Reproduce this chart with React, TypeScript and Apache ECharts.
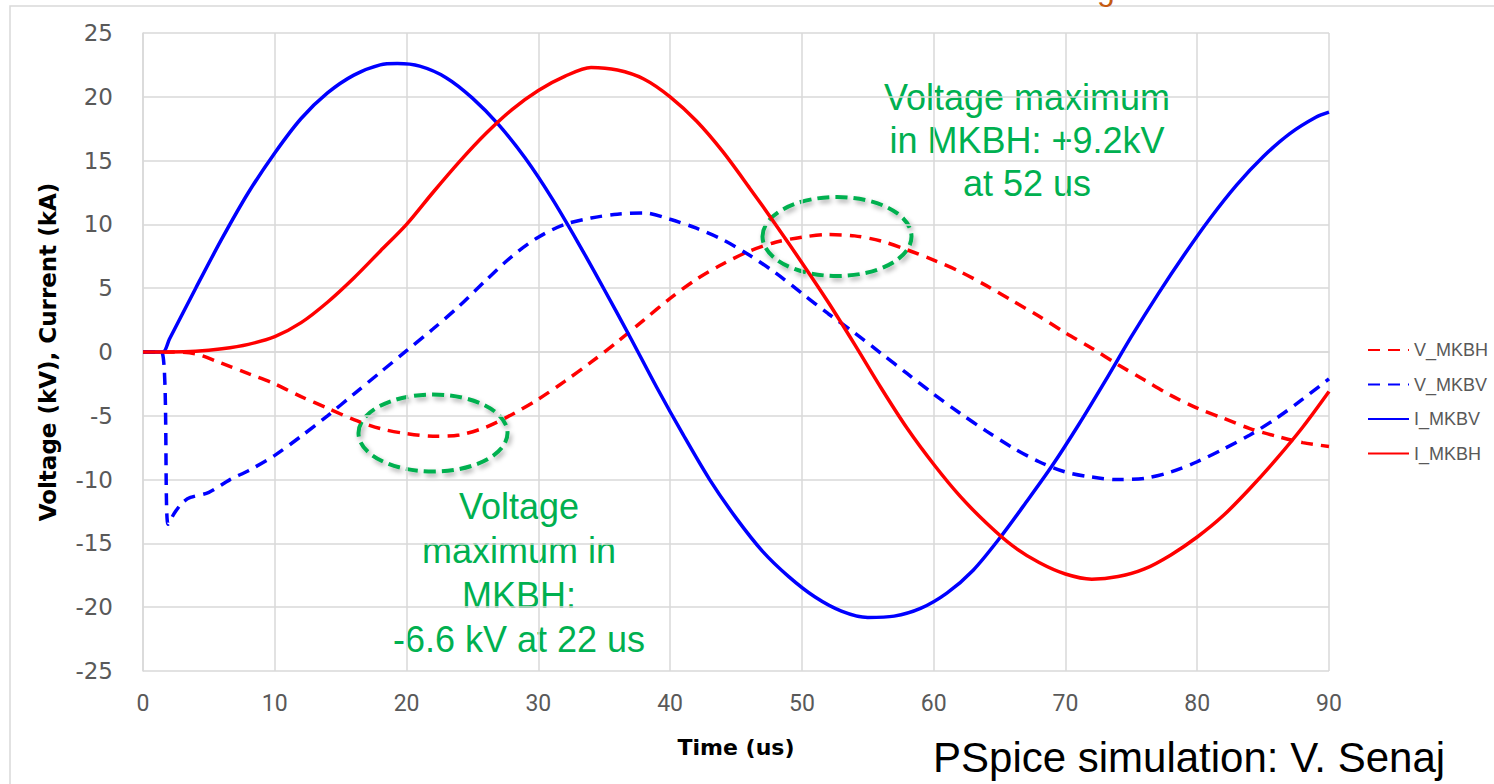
import React, { useEffect, useRef } from "react";
import * as echarts from "echarts";

// ---- data (time in us, value in kV / kA) ----
const tVMKBH = [0, 2, 4, 6, 8, 10, 12, 14, 16, 18, 20, 22, 24, 26, 28, 30, 32, 34, 36, 38, 40, 42, 44, 46, 48, 50, 52, 54, 56, 58, 60, 62, 64, 66, 68, 70, 72, 74, 76, 78, 80, 82, 84, 86, 88, 90];
const vVMKBH = [0, 0, -0.15, -0.9, -1.7, -2.5, -3.5, -4.4, -5.3, -6.0, -6.4, -6.6, -6.5, -5.9, -4.9, -3.7, -2.3, -0.8, 0.8, 2.5, 4.2, 5.7, 6.9, 7.9, 8.6, 9.0, 9.2, 9.1, 8.7, 8.0, 7.2, 6.3, 5.2, 4.0, 2.8, 1.5, 0.3, -1.0, -2.2, -3.4, -4.4, -5.2, -6.0, -6.6, -7.1, -7.4];

const tVMKBV = [0, 1.4, 1.9, 2.4, 3.0, 3.6, 5, 6.6, 8, 10, 12, 14, 16, 18, 20, 22, 24, 26, 28, 30, 32, 34, 36, 38, 40, 42, 44, 46, 48, 50, 52, 54, 56, 58, 60, 62, 64, 66, 68, 70, 72, 74, 76, 78, 80, 82, 84, 86, 88, 90];
const vVMKBV = [0, 0, -13.5, -12.6, -11.8, -11.4, -11.0, -10.0, -9.3, -8.1, -6.6, -5.0, -3.3, -1.6, 0.1, 1.8, 3.6, 5.6, 7.5, 9.0, 10.0, 10.5, 10.8, 10.9, 10.4, 9.7, 8.8, 7.6, 6.2, 4.6, 3.0, 1.5, -0.1, -1.7, -3.3, -4.8, -6.2, -7.5, -8.6, -9.4, -9.8, -10.0, -9.9, -9.4, -8.6, -7.6, -6.5, -5.2, -3.7, -2.1];

const tIMKBV = [0, 1.5, 2, 4, 6, 8, 10, 12, 14, 16, 18, 19.3, 21, 23, 25, 27, 29, 31, 33, 35, 37, 39, 41, 43, 45, 47, 49, 51, 53, 55, 57, 59, 61, 63, 65, 67, 69, 71, 73, 75, 77, 79, 81, 83, 85, 87, 89, 90];
const vIMKBV = [0, 0, 1.0, 5.0, 8.9, 12.5, 15.6, 18.3, 20.3, 21.7, 22.5, 22.6, 22.4, 21.5, 19.9, 17.8, 15.2, 12.1, 8.6, 4.9, 1.1, -2.8, -6.5, -10.0, -13.0, -15.6, -17.6, -19.2, -20.3, -20.8, -20.7, -20.1, -18.9, -17.1, -14.6, -11.8, -8.9, -5.7, -2.3, 1.2, 4.5, 7.6, 10.5, 13.1, 15.3, 17.1, 18.4, 18.8];

const tIMKBH = [0, 2, 4, 6, 8, 10, 12, 14, 16, 18, 20, 22, 24, 26, 28, 30, 32, 34, 36, 38, 40, 42, 44, 46, 48, 50, 52, 54, 56, 58, 60, 62, 64, 66, 68, 70, 72, 74, 76, 78, 80, 82, 84, 86, 88, 90];
const vIMKBH = [0, 0, 0.05, 0.25, 0.6, 1.2, 2.3, 3.9, 5.8, 7.9, 10.0, 12.5, 14.9, 17.1, 19.0, 20.5, 21.6, 22.3, 22.1, 21.4, 20.0, 18.1, 15.7, 12.9, 10.0, 7.0, 3.9, 0.6, -2.8, -6.0, -8.8, -11.3, -13.4, -15.2, -16.5, -17.4, -17.8, -17.6, -17.0, -15.9, -14.5, -12.8, -10.7, -8.4, -5.9, -3.1];

const seriesNames = ["V_MKBH", "V_MKBV", "I_MKBV", "I_MKBH"];
const xTicks = { min: 0, max: 90, interval: 10 };
const yTicks = { min: -25, max: 25, interval: 5 };

const noteHigh = ["Voltage maximum", "in MKBH: +9.2kV", "at 52 us"];
const noteLow = ["Voltage", "maximum in", "MKBH:", "-6.6 kV at 22 us"];
const credit = "PSpice simulation: V. Senaj";

const zip = (t: number[], v: number[]) => t.map((x, i) => [x, v[i]]);

const GREEN = "#00b050";
const GRID = "#d9d9d9";
const LABEL = "#595959";

export default function App() {
  const ref = useRef<HTMLDivElement>(null);
  useEffect(() => {
    if (!ref.current) return;
    const chart = echarts.init(ref.current, undefined, { renderer: "svg" });
    const dash = [12, 8];
    const mk = (name: string, data: number[][], color: string, dashed: boolean) => ({
      name,
      type: "line",
      data,
      smooth: 0.3,
      symbol: "none",
      showSymbol: false,
      lineStyle: { color, width: 3.5, type: dashed ? dash : "solid" },
      itemStyle: { color },
    });
    const ellipseStyle = {
      fill: "none",
      stroke: GREEN,
      lineWidth: 4,
      lineDash: [12, 6],
      shadowBlur: 5,
      shadowColor: "rgba(0,0,0,0.35)",
      shadowOffsetX: 2,
      shadowOffsetY: 3,
    };
    chart.setOption({
      animation: false,
      backgroundColor: "#ffffff",
      grid: { left: 143, top: 33, right: 165, bottom: 113, containLabel: false },
      xAxis: {
        type: "value",
        min: xTicks.min,
        max: xTicks.max,
        interval: xTicks.interval,
        name: "Time (us)",
        nameLocation: "middle",
        nameGap: 65,
        nameTextStyle: { fontFamily: "DejaVu Sans", fontWeight: "bold", fontSize: 22, color: "#000" },
        axisLine: { show: true, lineStyle: { color: GRID, width: 1.5 } },
        axisTick: { show: false },
        axisLabel: { color: LABEL, fontSize: 23, fontFamily: "Liberation Sans Narrow, Roboto", margin: 21 },
        splitLine: { show: true, lineStyle: { color: GRID, width: 1.5 } },
      },
      yAxis: {
        type: "value",
        min: yTicks.min,
        max: yTicks.max,
        interval: yTicks.interval,
        name: "Voltage (kV), Current (kA)",
        nameLocation: "middle",
        nameGap: 84,
        nameTextStyle: { fontFamily: "DejaVu Sans", fontWeight: "bold", fontSize: 23, color: "#000" },
        axisLine: { show: true, lineStyle: { color: GRID, width: 1.5 } },
        axisTick: { show: false },
        axisLabel: { color: LABEL, fontSize: 23, fontFamily: "DejaVu Sans", margin: 30 },
        splitLine: { show: true, lineStyle: { color: GRID, width: 1.5 } },
      },
      legend: {
        orient: "vertical",
        left: 1362,
        top: 336,
        itemWidth: 41,
        itemHeight: 14,
        itemGap: 16.5,
        data: seriesNames,
        itemStyle: { opacity: 0 },
        textStyle: { color: LABEL, fontSize: 18, fontFamily: "Liberation Sans", lineHeight: 18 },
      },
      series: [
        mk(seriesNames[0], zip(tVMKBH, vVMKBH), "#ff0000", true),
        mk(seriesNames[1], zip(tVMKBV, vVMKBV), "#0000ff", true),
        mk(seriesNames[2], zip(tIMKBV, vIMKBV), "#0000ff", false),
        mk(seriesNames[3], zip(tIMKBH, vIMKBH), "#ff0000", false),
      ],
      graphic: [
        {
          type: "rect",
          silent: true,
          z: -10,
          shape: { x: 10, y: 6, width: 1600, height: 900 },
          style: { fill: "none", stroke: GRID, lineWidth: 1.5 },
        },
        {
          type: "text",
          silent: true,
          x: 1097,
          y: -27,
          style: { text: "g", fill: "#c55a11", font: "32px Liberation Sans" },
        },
        { type: "ellipse", silent: true, shape: { cx: 433, cy: 433, rx: 74.5, ry: 38.5 }, style: ellipseStyle },
        { type: "ellipse", silent: true, shape: { cx: 837, cy: 236.5, rx: 74.5, ry: 39.5 }, style: ellipseStyle },
        {
          type: "text",
          silent: true,
          x: 1027,
          y: 76,
          style: {
            text: noteHigh.join("\n"),
            fill: GREEN,
            font: "36px Liberation Sans",
            lineHeight: 43,
            align: "center",
            verticalAlign: "top",
          },
        },
        {
          type: "text",
          silent: true,
          x: 519,
          y: 484,
          style: {
            text: noteLow.join("\n"),
            fill: GREEN,
            font: "36px Liberation Sans",
            lineHeight: 44.5,
            align: "center",
            verticalAlign: "top",
          },
        },
        {
          type: "text",
          silent: true,
          x: 933,
          y: 736,
          style: { text: credit, fill: "#000000", font: "42px Liberation Sans", verticalAlign: "top" },
        },
      ],
    });
    return () => chart.dispose();
  }, []);
  return (
    <div
      ref={ref}
      style={{ position: "fixed", left: 0, top: 0, width: 1494, height: 784, background: "#fff" }}
    />
  );
}
